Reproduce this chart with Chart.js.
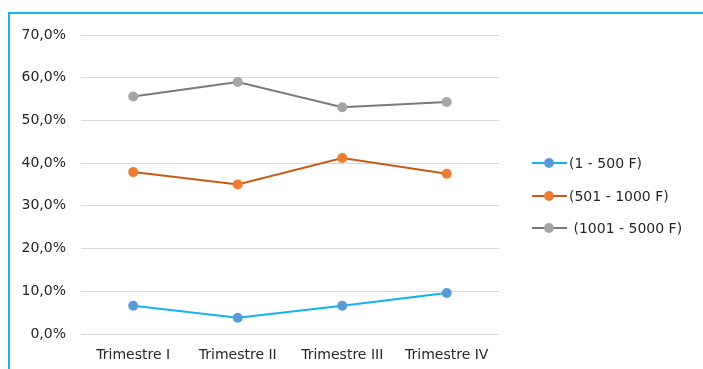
<!DOCTYPE html>
<html>
<head>
<meta charset="utf-8">
<script src="https://cdn.jsdelivr.net/npm/chart.js@4/dist/chart.umd.min.js"></script>
<style>
  html, body { margin: 0; padding: 0; background: #fff; }
  #wrap { position: relative; width: 703px; height: 369px; overflow: hidden; }
  #frame { position: absolute; left: 8px; top: 12px; width: 720px; height: 400px;
           border-left: 2px solid #1DB3EE; border-top: 2px solid #1DB3EE; box-sizing: border-box; }
  canvas { position: absolute; left: 0; top: 0; }
</style>
</head>
<body>
<div id="wrap">
  <div id="frame"></div>
  <canvas id="c" width="703" height="369"></canvas>
</div>
<script>
// Quarterly share of each price band (percent)
const categories = ['Trimestre I', 'Trimestre II', 'Trimestre III', 'Trimestre IV'];
const seriesNames = ['(1 - 500 F)', '(501 - 1000 F)', ' (1001 - 5000 F)'];
const band1to500 = [6.6, 3.8, 6.6, 9.6];
const band501to1000 = [37.9, 35.0, 41.2, 37.5];
const band1001to5000 = [55.6, 59.0, 53.1, 54.3];
const yTicks = [0, 10, 20, 30, 40, 50, 60, 70];

const FONT = '"DejaVu Sans", sans-serif';
const FONT_SIZE = 14;

function series(label, data, line, marker) {
  return {
    label, data,
    borderColor: line, backgroundColor: marker,
    pointBackgroundColor: marker, pointBorderColor: marker,
    pointRadius: 5, pointHoverRadius: 5, pointBorderWidth: 0,
    borderWidth: 2, tension: 0, fill: false
  };
}

// Legend on the right, drawn as line + dot + text
const sideLegend = {
  id: 'sideLegend',
  afterDraw(chart) {
    const ctx = chart.ctx;
    const rows = [163, 196, 228];
    ctx.save();
    ctx.font = FONT_SIZE + 'px ' + FONT;
    ctx.textBaseline = 'middle';
    ctx.textAlign = 'left';
    chart.data.datasets.forEach((ds, i) => {
      const y = rows[i];
      ctx.strokeStyle = ds.borderColor;
      ctx.lineWidth = 2;
      ctx.beginPath();
      ctx.moveTo(532, y); ctx.lineTo(567, y); ctx.stroke();
      ctx.fillStyle = ds.pointBackgroundColor;
      ctx.beginPath();
      ctx.arc(549, y, 5, 0, Math.PI * 2); ctx.fill();
      ctx.fillStyle = '#262626';
      ctx.fillText(ds.label, 569, y + 1);
    });
    ctx.restore();
  }
};

new Chart(document.getElementById('c'), {
  type: 'line',
  data: {
    labels: categories,
    datasets: [
      series(seriesNames[0], band1to500, '#12B2EE', '#5B9BD5'),
      series(seriesNames[1], band501to1000, '#C95A16', '#ED7D31'),
      series(seriesNames[2], band1001to5000, '#7A7A7A', '#A5A5A5')
    ]
  },
  options: {
    responsive: false,
    animation: false,
    events: [],
    layout: { padding: { left: 0, right: 204, top: 35, bottom: 0 } },
    plugins: { legend: { display: false }, tooltip: { enabled: false } },
    scales: {
      x: {
        offset: true,
        grid: { display: false, drawTicks: false, offset: true },
        border: { display: false },
        ticks: { color: '#262626', font: { family: FONT, size: FONT_SIZE }, padding: 13, maxRotation: 0 },
        afterFit(scale) { scale.height = 35; }
      },
      y: {
        min: 0, max: 70,
        afterBuildTicks(scale) { scale.ticks = yTicks.map(v => ({ value: v })); },
        grid: { color: '#D9D9D9', lineWidth: 1, drawTicks: false },
        border: { display: false },
        ticks: {
          color: '#262626', font: { family: FONT, size: FONT_SIZE }, padding: 15,
          callback: v => v.toFixed(1).replace('.', ',') + '%'
        },
        afterFit(scale) { scale.width = 81; }
      }
    }
  },
  plugins: [sideLegend]
});
</script>
</body>
</html>
